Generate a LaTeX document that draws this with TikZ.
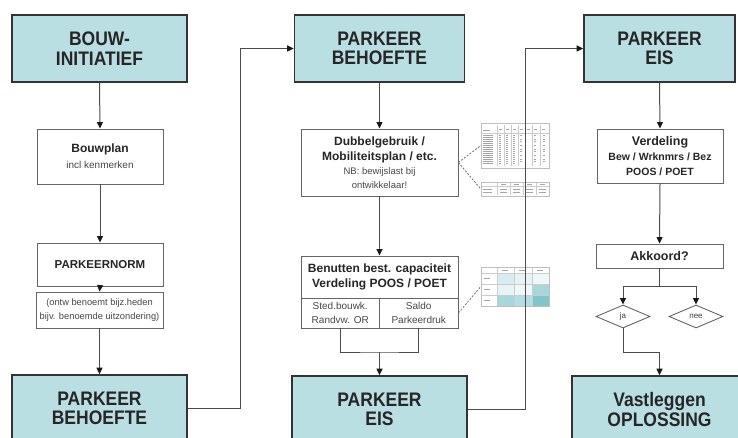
\documentclass[tikz,border=0pt]{standalone}
\usepackage{fontspec}
\usepackage{graphicx}
\setmainfont{Liberation Sans}
\usetikzlibrary{arrows.meta,shapes.geometric}
\definecolor{tealfill}{HTML}{B9DFE2}
\definecolor{tA}{HTML}{D6EEF0}
\definecolor{tB}{HTML}{E6F4F5}
\definecolor{tC}{HTML}{EEF8F8}
\definecolor{tD}{HTML}{A6D7DB}
\definecolor{tE}{HTML}{7FC5CB}
\newcommand\vst[1]{\scalebox{1}[1.12]{#1}}
\newcommand\fb[1]{\bfseries\fontsize{#1}{#1}\selectfont}
\newcommand\fr[1]{\mdseries\fontsize{#1}{#1}\selectfont\color{black!72}}
\tikzset{
 bigbox/.style={draw=black!80, line width=1.6pt, fill=tealfill, inner sep=0pt, align=center, text=black!85, font=\bfseries\fontsize{17.5}{19.5}\selectfont},
 wbox/.style={draw=black!60, line width=0.9pt, fill=white, inner sep=0pt, align=center, text=black!85},
 conn/.style={draw=black!70, line width=1pt},
 arr/.style={conn, -{Triangle[length=6.5pt,width=6pt,fill=black!90,color=black!90]}},
 dashline/.style={draw=black!55, line width=0.8pt, dash pattern=on 2pt off 1.5pt},
 thumb/.style={draw=black!25, line width=0.5pt, fill=white, inner sep=0pt},
 dia/.style={diamond, draw=black!60, line width=0.9pt, fill=white, inner sep=0pt, font=\fontsize{8}{9}\selectfont, text=black!75},
 tline/.style={draw=black!20, line width=0.3pt},
 tstroke/.style={draw=black!35, line width=0.5pt},
}
\begin{document}
\begin{tikzpicture}[x=1pt,y=-1pt]
\useasboundingbox[fill=white] (0,0) rectangle (738,438);

% ---------- column 1 ----------
\node[bigbox, minimum width=175pt, minimum height=67pt] (n1) at (99.5,48.5) {\vst{BOUW-}\\\vst{INITIATIEF}};
\node[wbox, minimum width=126pt, minimum height=55pt] (bp) at (100,156.5)
  {\fb{12}Bouwplan\\[4pt]\fr{10}incl kenmerken};
\node[wbox, minimum width=126pt, minimum height=43pt] (pn) at (100,264.5)
  {\fb{11.5}PARKEERNORM};
\node[wbox, minimum width=127pt, minimum height=36pt] (cm) at (99.5,310)
  {\fr{9.3}(ontw benoemt bijz.heden\\[2pt]\fr{9.3}bijv. benoemde uitzondering)};
\node[bigbox, minimum width=175pt, minimum height=67pt] (b1) at (99.5,408.5) {\vst{PARKEER}\\\vst{BEHOEFTE}};

\draw[arr] (n1.south) -- (bp.north);
\draw[arr] (bp.south) -- (pn.north);
\draw[arr] (pn.south) -- (cm.north);
\draw[arr] (cm.south) -- (b1.north);

% ---------- column 2 ----------
\node[bigbox, minimum width=170pt, minimum height=67pt] (t2) at (379.5,48.5) {\vst{PARKEER}\\\vst{BEHOEFTE}};
\node[wbox, minimum width=157pt, minimum height=67pt] (db) at (379.5,162.5)
  {\fb{12}Dubbelgebruik /\\[3pt]\fb{12}Mobiliteitsplan / etc.\\[2pt]\fr{9.5}NB: bewijslast bij\\[2pt]\fr{9.5}ontwikkelaar!};
\node[wbox, minimum width=157pt, minimum height=42pt] (bnt) at (379.5,277)
  {\fb{12}Benutten best. capaciteit\\[3pt]\fb{12}Verdeling POOS / POET};
\node[wbox, minimum width=78.5pt, minimum height=30pt] (bnl) at (340.25,313)
  {\fr{10}Sted.bouwk.\\[2pt]\fr{10}Randvw. OR};
\node[wbox, minimum width=78.5pt, minimum height=30pt] (bnr) at (418.75,313)
  {\fr{10}Saldo\\[2pt]\fr{10}Parkeerdruk};
\node[bigbox, minimum width=175pt, minimum height=67pt] (b2) at (379.5,409.5) {\vst{PARKEER}\\\vst{EIS}};

\coordinate (j2) at (379.5,352);
\draw[arr] (t2.south) -- (db.north);
\draw[arr] (db.south) -- (bnt.north);
\draw[conn] (bnl.south) |- (j2) -| (bnr.south);
\draw[arr] (j2) -- (b2.north);

% thumbnails
\node[thumb, minimum width=68pt, minimum height=45pt] (tb1) at (515,145.5) {};
\node[thumb, minimum width=68pt, minimum height=14pt] (tb2) at (515,189) {};
\node[thumb, minimum width=68pt, minimum height=39pt] (tb3) at (515,286.5) {};

% table 1 content
\draw[tline] (481,133) -- (549,133);
\foreach \xx in {497,504,511,518,525,532,540} {\draw[tline] (\xx,125) -- (\xx,166);}
\foreach \xx in {499,506,513,520,527,534,542} {\draw[tstroke] (\xx,129) -- (\xx+3,129);}
\draw[tstroke] (483,130) -- (490,130);
\foreach \r in {0,...,14} {
  \draw[tstroke] (483,135.5+2*\r) -- (493,135.5+2*\r);
  \draw[tstroke] (499,135.5+2*\r) -- (501,135.5+2*\r);
  \draw[tstroke] (506,135.5+2*\r) -- (508,135.5+2*\r);
  \draw[tstroke] (513,135.5+2*\r) -- (515,135.5+2*\r);
}
\foreach \r in {0,2,3,5,7,8,10,12,13} {
  \draw[tstroke] (520,135.5+2*\r) -- (522,135.5+2*\r);
  \draw[tstroke] (534,135.5+2*\r) -- (536,135.5+2*\r);
  \draw[tstroke] (543,135.5+2*\r) -- (545,135.5+2*\r);
}
% table 2 content
\draw[tline] (481,186) -- (549,186);
\foreach \xx in {497,510,523,536} {\draw[tline] (\xx,183) -- (\xx,195);}
\foreach \xx in {501,514,527,540} {\draw[tstroke] (\xx,184.5) -- (\xx+5,184.5);}
\foreach \yy in {189,192} {
  \draw[tstroke] (483,\yy) -- (492,\yy);
  \foreach \xx in {500,513,526,539} {\draw[tstroke] (\xx,\yy) -- (\xx+7,\yy);}
}
% table 3 content
\fill[tA] (497,273) rectangle (514,284);
\fill[tB] (514,273) rectangle (532,284);
\fill[tC] (532,273) rectangle (549,284);
\fill[tB] (497,284) rectangle (514,295);
\fill[tC] (514,284) rectangle (532,295);
\fill[tD] (532,284) rectangle (549,295);
\fill[tD] (497,295) rectangle (514,306);
\fill[tD!85!white] (514,295) rectangle (532,306);
\fill[tE] (532,295) rectangle (549,306);
\draw[tline] (481,273) -- (549,273);
\draw[tline] (481,284) -- (549,284);
\draw[tline] (481,295) -- (549,295);
\foreach \xx in {497,514,532} {\draw[tline] (\xx,267) -- (\xx,306);}
\foreach \xx in {502,519,537} {\draw[tstroke] (\xx,270) -- (\xx+6,270);}
\foreach \yy in {278.5,289.5,300.5} {\draw[tstroke] (484,\yy) -- (490,\yy);}
\node[thumb, minimum width=68pt, minimum height=39pt, fill=none] at (515,286.5) {};

\draw[dashline] (db.east) -- (tb1.west);
\draw[dashline] (db.east) -- (tb2.west);
\draw[dashline] (bnr.east) -- (tb3.west);

% ---------- column 3 ----------
\node[bigbox, minimum width=151pt, minimum height=67pt] (t3) at (659.5,48.5) {\vst{PARKEER}\\\vst{EIS}};
\node[wbox, minimum width=126pt, minimum height=54pt] (vd) at (660,156)
  {\fb{12.5}Verdeling\\[3pt]\fb{10.5}Bew / Wrknmrs / Bez\\[3pt]\fb{10.5}POOS / POET};
\node[wbox, minimum width=127pt, minimum height=24pt] (ak) at (659.5,256)
  {\fb{12.5}Akkoord?};
\node[dia, minimum width=54pt, minimum height=23pt] (ja) at (623,316.5) {ja};
\node[dia, minimum width=54pt, minimum height=23pt] (nee) at (696,316.5) {nee};
\node[bigbox, minimum width=175pt, minimum height=67pt] (b3) at (659.5,409.5) {\vst{Vastleggen}\\\vst{OPLOSSING}};

\coordinate (s3) at (659.5,286);
\coordinate (j3) at (659.5,352);
\draw[arr] (t3.south) -- (vd.north);
\draw[arr] (vd.south) -- (ak.north);
\draw[conn] (ak.south) -- (s3);
\draw[arr] (s3) -| (ja.north);
\draw[arr] (s3) -| (nee.north);
\draw[conn] (ja.south) |- (j3);
\draw[arr] (j3) -- (b3.north);

% ---------- long connectors ----------
\coordinate (k1) at (240,48.5);
\coordinate (k2) at (525.5,48.5);
\draw[arr] (b1.east) -| (k1) -- (t2.west);
\draw[arr] (b2.east) -| (k2) -- (t3.west);
\end{tikzpicture}
\end{document}
